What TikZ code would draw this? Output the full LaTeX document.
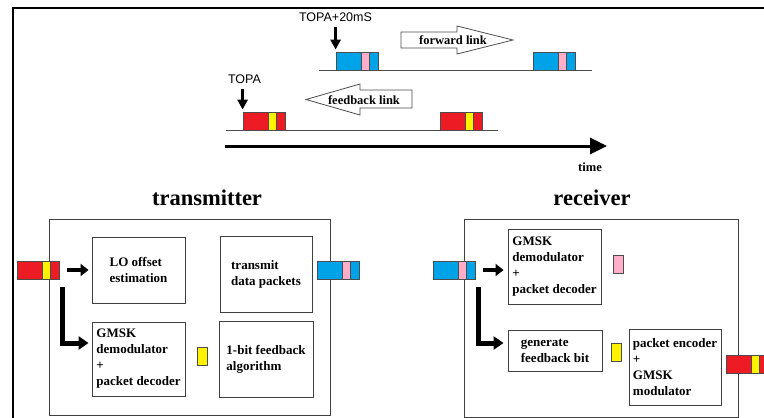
\documentclass[tikz,border=0pt]{standalone}
\usepackage{fontspec}
\setmainfont{Liberation Serif}
\newfontfamily\arialfont{Liberation Sans}
\usetikzlibrary{arrows.meta, positioning}
\definecolor{pktred}{RGB}{237, 28, 36}
\definecolor{pktyellow}{RGB}{255, 242, 0}
\definecolor{pktblue}{RGB}{0, 162, 232}
\definecolor{pktpink}{RGB}{255, 174, 201}

\begin{document}
\begin{tikzpicture}[x=1pt, y=-1pt,
  block/.style={draw=black!75, line width=0.9pt, rectangle, align=left, inner sep=0pt, font=\bfseries\fontsize{13}{16}\selectfont},
  outerbox/.style={draw=black!75, line width=0.9pt, rectangle, inner sep=0pt},
  packet/.style 2 args={draw=black!70, line width=0.8pt, fill=#1, minimum width=42pt, minimum height=18pt, inner sep=0pt,
    path picture={\draw[black!70, line width=0.8pt, fill=#2] ([xshift=25pt]path picture bounding box.south west) rectangle ([xshift=33pt]path picture bounding box.north west);}},
  bitbox/.style={draw=black!70, line width=0.8pt, fill=#1, minimum width=10pt, minimum height=18pt, inner sep=0pt},
  title/.style={font=\bfseries\fontsize{22.5}{27}\selectfont},
  linklabel/.style={font=\bfseries\fontsize{12.5}{15}\selectfont, inner sep=1pt},
  marklabel/.style={font=\arialfont\fontsize{12.5}{15}\selectfont},
  timeline/.style={draw=black!70, line width=1pt},
  blockarrow/.style={draw=black!70, line width=0.8pt, fill=white},
  droparrow/.style={line width=3pt, -{Triangle[length=10pt, width=10pt]}, shorten <=2.5pt, shorten >=2pt},
  fatarrow/.style={line width=4pt, -{Triangle[length=8pt, width=12pt]}},
  bentarrow/.style={line width=5pt, -{Triangle[length=10pt, width=13pt]}}
]
  \useasboundingbox (0,0) rectangle (764,418);

  % frame
  \draw[line width=2pt] (12.5,418) -- (12.5,8) -- (764,8);

  % timing: forward link
  \draw[timeline] (319,70) -- (592,70);
  \node[packet={pktblue}{pktpink}] (fw1) at (357,61) {};
  \node[packet={pktblue}{pktpink}] (fw2) at (554.5,61) {};
  \node[marklabel] (topafw) at (335.5,17) {TOPA+20mS};
  \draw[droparrow] (topafw.south -| fw1.north west) -- (fw1.north west);
  \draw[blockarrow] (401,32) -- (457,32) -- (457,26) -- (513,40) -- (457,54) -- (457,48) -- (401,48) -- cycle;
  \node[linklabel] (fwlabel) at (453,40) {forward link};

  % timing: feedback link
  \draw[timeline] (226,130) -- (498,130);
  \node[packet={pktred}{pktyellow}] (fb1) at (264,121) {};
  \node[packet={pktred}{pktyellow}] (fb2) at (461.5,121) {};
  \node[marklabel] (topafb) at (244.5,79) {TOPA};
  \draw[droparrow] (topafb.south -| fb1.north west) -- (fb1.north west);
  \draw[blockarrow] (412,90) -- (360,90) -- (360,84) -- (306,99.5) -- (360,115) -- (360,108) -- (412,108) -- cycle;
  \node[linklabel] (fblabel) at (364,100) {feedback link};

  % time axis
  \coordinate (t0) at (225,146);
  \coordinate (t1) at (607,146);
  \draw[line width=3pt, -{Triangle[length=17pt, width=16pt]}] (t0) -- (t1);
  \node[linklabel] (timelabel) at (590,167) {time};

  % transmitter
  \node[title] (txtitle) at (207,198) {transmitter};
  \node[outerbox, minimum width=281pt, minimum height=196pt] (txbox) at (189.5,317) {};
  \node[block, minimum width=93pt, minimum height=66pt] (lo) at (138.5,270) {LO offset\\estimation};
  \node[block, minimum width=92pt, minimum height=76pt] (txdata) at (266,274) {transmit\\data packets};
  \node[block, minimum width=93pt, minimum height=74pt] (gmsk) at (138.5,359) {GMSK\\demodulator\\+\\packet decoder};
  \node[block, minimum width=94pt, minimum height=76pt] (fbalg) at (266,359) {1-bit feedback\\algorithm};
  \node[bitbox=pktyellow] (txbit) at (202,356) {};
  \node[packet={pktred}{pktyellow}] (txin) at (38,270) {};
  \node[packet={pktblue}{pktpink}] (txout) at (338.5,270) {};
  \draw[fatarrow, shorten <=8pt, shorten >=3pt] (txin) -- (lo);
  \draw[bentarrow, shorten >=3pt] ([shift={(3pt,-8pt)}]txin.south east) |- ([yshift=16pt]gmsk.west);

  % receiver
  \node[title] (rxtitle) at (592,198) {receiver};
  \node[outerbox, minimum width=274pt, minimum height=198pt] (rxbox) at (601,318) {};
  \node[block, minimum width=93pt, minimum height=75pt] (rxdemod) at (554.5,266.5) {GMSK\\demodulator\\+\\packet decoder};
  \node[block, minimum width=94pt, minimum height=41pt] (genbit) at (555,350.5) {generate\\feedback bit};
  \node[block, minimum width=92pt, minimum height=76pt] (encoder) at (675,367) {packet encoder\\+\\GMSK\\modulator};
  \node[bitbox=pktpink] (rxpink) at (618,264) {};
  \node[bitbox=pktyellow] (rxyellow) at (616.5,352) {};
  \node[packet={pktblue}{pktpink}] (rxin) at (454.5,270) {};
  \node[packet={pktred}{pktyellow}] (rxout) at (747,364.5) {};
  \draw[fatarrow, shorten <=7pt, shorten >=4pt] (rxin) -- (rxin -| rxdemod.west);
  \draw[bentarrow, shorten >=4pt] ([shift={(3pt,-8pt)}]rxin.south east) |- ([yshift=7.5pt]genbit.west);
\end{tikzpicture}
\end{document}
